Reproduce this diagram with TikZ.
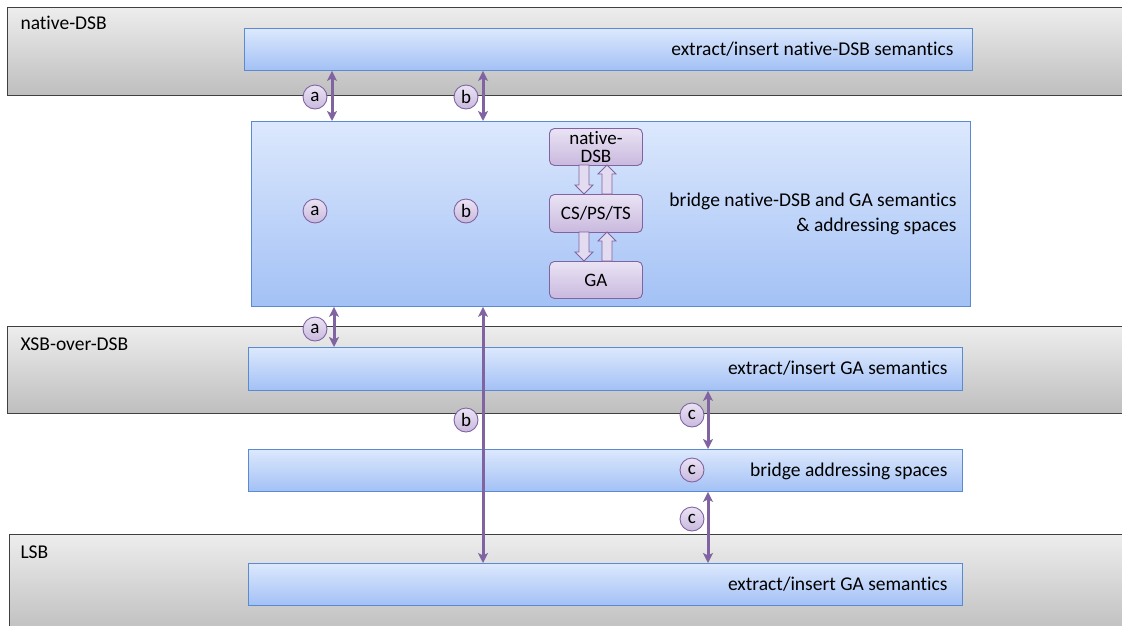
\documentclass[tikz,border=0pt]{standalone}
\usepackage{fontspec}
\setmainfont{Carlito}[Ligatures=NoCommon]
\usetikzlibrary{arrows.meta,calc}
\definecolor{bandtop}{HTML}{EDEDED}
\definecolor{bandbot}{HTML}{BEBEBE}
\definecolor{bluetop}{HTML}{DCE8FD}
\definecolor{bluebot}{HTML}{A3C1F5}
\definecolor{blueline}{HTML}{5A8AD0}
\definecolor{purp}{HTML}{8064A2}
\definecolor{lavtop}{HTML}{EAE3F4}
\definecolor{lavbot}{HTML}{C9B9DE}
\tikzset{
  band/.style={draw=black!75, line width=1.3pt, top color=bandtop, bottom color=bandbot, anchor=north west, inner sep=0pt},
  bluebox/.style={draw=blueline, line width=0.9pt, top color=bluetop, bottom color=bluebot, anchor=north west, inner sep=0pt},
  innerbox/.style={draw=purp, line width=0.9pt, rounded corners=5pt, top color=lavtop, bottom color=lavbot, minimum width=93pt, minimum height=37pt, inner sep=0pt, align=center, font=\fontsize{19}{18}\selectfont, anchor=north west},
  lbl/.style={circle, draw=purp, line width=0.9pt, top color=lavtop, bottom color=lavbot, minimum size=24pt, inner sep=0pt, font=\fontsize{19}{19}\selectfont},
  duarrow/.style={draw=purp, line width=3pt, {Stealth[length=10pt,width=10pt,inset=2.5pt]}-{Stealth[length=10pt,width=10pt,inset=2.5pt]}},
  hollow/.style={draw=purp, line width=0.8pt, fill=lavtop!80!lavbot, line join=miter},
  bandtext/.style={font=\fontsize{19.5}{19.5}\selectfont, anchor=west},
  rtext/.style={font=\fontsize{19.5}{19.5}\selectfont, anchor=east}
}
\newcommand{\hdown}[3]{\draw[hollow] (#1-5,#2) -- (#1+5,#2) -- (#1+5,#3-9) -- (#1+9,#3-9) -- (#1,#3) -- (#1-9,#3-9) -- (#1-5,#3-9) -- cycle;}
\newcommand{\hup}[3]{\draw[hollow] (#1-5,#3) -- (#1+5,#3) -- (#1+5,#2+9) -- (#1+9,#2+9) -- (#1,#2) -- (#1-9,#2+9) -- (#1-5,#2+9) -- cycle;}
\begin{document}
\begin{tikzpicture}[x=1pt,y=-1pt]
\useasboundingbox (0,0) rectangle (1122,625);
% bands
\node[band, minimum width=1130pt, minimum height=88pt] (nband) at (7,7) {};
\node[band, minimum width=1130pt, minimum height=87pt] (xband) at (7,326) {};
\node[band, minimum width=1130pt, minimum height=100pt] (lband) at (9,534) {};
\node[bandtext] (nbt) at (17,23) {native-DSB};
\node[bandtext] (xbt) at (17,344) {XSB-over-DSB};
\node[bandtext] (lbt) at (17,552) {LSB};
% blue boxes
\node[bluebox, minimum width=728pt, minimum height=42pt] (topb) at (244,28) {};
\node[bluebox, minimum width=719pt, minimum height=185pt] (big) at (251,121) {};
\node[bluebox, minimum width=714pt, minimum height=43pt] (xb) at (248,347) {};
\node[bluebox, minimum width=714pt, minimum height=42pt] (br) at (248,449) {};
\node[bluebox, minimum width=714pt, minimum height=42pt] (lb) at (248,563) {};
% texts
\node[rtext] (t1) at (957,49) {extract/insert native-DSB semantics};
\node[rtext] (t2) at (960,201) {bridge native-DSB and GA semantics};
\node[rtext] (t3) at (960,226) {\& addressing spaces};
\node[rtext] (t4) at (951,368) {extract/insert GA semantics};
\node[rtext] (t5) at (951,471) {bridge addressing spaces};
\node[rtext] (t6) at (951,584) {extract/insert GA semantics};
% inner boxes
\node[innerbox] (nd) at (549,128) {native-\\DSB};
\node[innerbox, minimum height=38pt] (cs) at (549,194) {CS/PS/TS};
\node[innerbox] (ga) at (549,261) {GA};
\hdown{584}{165}{194}
\hup{607}{165}{194}
\hdown{584}{232}{261}
\hup{607}{232}{261}
% arrow x positions
\coordinate (xa1) at (332,0);
\coordinate (xb1) at (483,0);
\coordinate (xa2) at (334,0);
\coordinate (xc) at (708,0);
\draw[duarrow] (topb.south -| xa1) -- (big.north -| xa1);
\draw[duarrow] (topb.south -| xb1) -- (big.north -| xb1);
\draw[duarrow] (big.south -| xa2) -- (xb.north -| xa2);
\draw[duarrow] (big.south -| xb1) -- (lb.north -| xb1);
\draw[duarrow] (xb.south -| xc) -- (br.north -| xc);
\draw[duarrow] (br.south -| xc) -- (lb.north -| xc);
% labels
\node[lbl] (la1) at (315,97) {a};
\node[lbl] (lb1) at (466,97) {b};
\node[lbl] (la2) at (315,211) {a};
\node[lbl] (lb2) at (466,211) {b};
\node[lbl] (la3) at (315,329) {a};
\node[lbl] (lb3) at (466,420) {b};
\node[lbl] (lc1) at (692,415) {c};
\node[lbl] (lc2) at (692,470) {c};
\node[lbl] (lc3) at (692,519) {c};
\end{tikzpicture}
\end{document}
